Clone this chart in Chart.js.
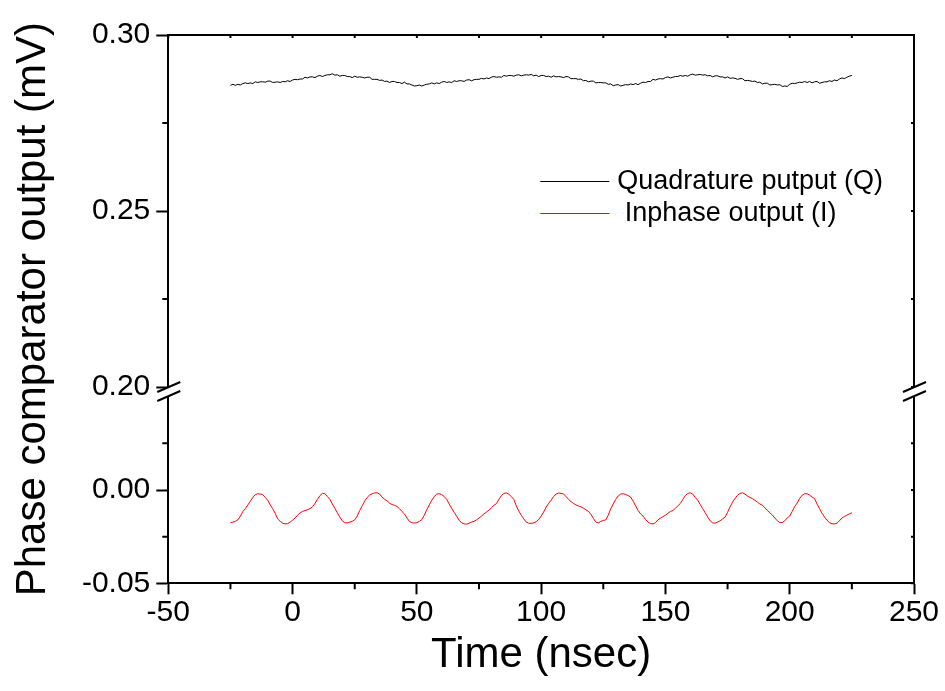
<!DOCTYPE html>
<html>
<head>
<meta charset="utf-8">
<script src="https://cdn.jsdelivr.net/npm/chart.js@4/dist/chart.umd.min.js"></script>
<style>
  html, body { margin: 0; padding: 0; background: #fff; }
  canvas { display: block; }
</style>
</head>
<body>
<canvas id="phaseChart" width="945" height="691"></canvas>
<script>
// time axis (nsec): one sample per nsec from -25 to 225
const timeStart = -25;

// Quadrature output (Q), mV
const quadratureQ = [
  0.2857, 0.2860, 0.2857, 0.2860, 0.2858, 0.2862, 0.2864, 0.2862, 0.2864, 0.2862,
  0.2867, 0.2865, 0.2867, 0.2867, 0.2866, 0.2869, 0.2869, 0.2865, 0.2866, 0.2867,
  0.2865, 0.2868, 0.2867, 0.2870, 0.2868, 0.2872, 0.2874, 0.2873, 0.2875, 0.2875,
  0.2880, 0.2878, 0.2881, 0.2881, 0.2879, 0.2883, 0.2885, 0.2882, 0.2885, 0.2887,
  0.2887, 0.2890, 0.2886, 0.2887, 0.2883, 0.2885, 0.2885, 0.2882, 0.2882, 0.2879,
  0.2883, 0.2880, 0.2881, 0.2880, 0.2878, 0.2880, 0.2880, 0.2874, 0.2874, 0.2874,
  0.2871, 0.2872, 0.2868, 0.2869, 0.2865, 0.2868, 0.2868, 0.2865, 0.2865, 0.2862,
  0.2866, 0.2861, 0.2861, 0.2858, 0.2855, 0.2856, 0.2858, 0.2855, 0.2858, 0.2860,
  0.2861, 0.2864, 0.2861, 0.2864, 0.2862, 0.2866, 0.2868, 0.2865, 0.2867, 0.2865,
  0.2870, 0.2868, 0.2870, 0.2870, 0.2868, 0.2872, 0.2873, 0.2870, 0.2873, 0.2874,
  0.2874, 0.2877, 0.2875, 0.2878, 0.2876, 0.2880, 0.2882, 0.2880, 0.2881, 0.2880,
  0.2885, 0.2883, 0.2885, 0.2885, 0.2883, 0.2886, 0.2887, 0.2884, 0.2886, 0.2887,
  0.2886, 0.2888, 0.2884, 0.2886, 0.2882, 0.2885, 0.2885, 0.2882, 0.2883, 0.2880,
  0.2884, 0.2881, 0.2882, 0.2881, 0.2879, 0.2882, 0.2881, 0.2876, 0.2876, 0.2876,
  0.2874, 0.2875, 0.2870, 0.2871, 0.2867, 0.2869, 0.2869, 0.2864, 0.2865, 0.2865,
  0.2864, 0.2864, 0.2860, 0.2861, 0.2856, 0.2858, 0.2859, 0.2855, 0.2857, 0.2859,
  0.2858, 0.2861, 0.2859, 0.2862, 0.2859, 0.2863, 0.2866, 0.2865, 0.2868, 0.2868,
  0.2874, 0.2872, 0.2875, 0.2876, 0.2875, 0.2879, 0.2881, 0.2878, 0.2880, 0.2882,
  0.2882, 0.2885, 0.2883, 0.2885, 0.2883, 0.2887, 0.2889, 0.2886, 0.2887, 0.2888,
  0.2886, 0.2887, 0.2884, 0.2885, 0.2881, 0.2884, 0.2884, 0.2881, 0.2881, 0.2878,
  0.2881, 0.2877, 0.2878, 0.2877, 0.2874, 0.2876, 0.2876, 0.2870, 0.2871, 0.2870,
  0.2868, 0.2869, 0.2865, 0.2866, 0.2861, 0.2863, 0.2863, 0.2858, 0.2859, 0.2860,
  0.2858, 0.2859, 0.2854, 0.2855, 0.2854, 0.2860, 0.2863, 0.2862, 0.2864, 0.2866,
  0.2865, 0.2868, 0.2865, 0.2868, 0.2864, 0.2867, 0.2868, 0.2863, 0.2865, 0.2867,
  0.2867, 0.2870, 0.2868, 0.2872, 0.2870, 0.2875, 0.2878, 0.2876, 0.2880, 0.2883,
  0.2885
];

// Inphase output (I), mV
const inphaseI = [
  -0.0175, -0.0172, -0.0168, -0.0160, -0.0140, -0.0115, -0.0100, -0.0080, -0.0060, -0.0040,
  -0.0025, -0.0020, -0.0022, -0.0025, -0.0040, -0.0055, -0.0080, -0.0100, -0.0125, -0.0155,
  -0.0168, -0.0178, -0.0182, -0.0180, -0.0172, -0.0162, -0.0150, -0.0135, -0.0123, -0.0115,
  -0.0110, -0.0106, -0.0100, -0.0090, -0.0072, -0.0050, -0.0030, -0.0018, -0.0020, -0.0035,
  -0.0050, -0.0075, -0.0098, -0.0122, -0.0145, -0.0165, -0.0175, -0.0177, -0.0172, -0.0168,
  -0.0160, -0.0140, -0.0110, -0.0085, -0.0060, -0.0040, -0.0027, -0.0020, -0.0016, -0.0015,
  -0.0022, -0.0038, -0.0050, -0.0058, -0.0070, -0.0078, -0.0082, -0.0088, -0.0100, -0.0115,
  -0.0128, -0.0150, -0.0168, -0.0176, -0.0177, -0.0175, -0.0168, -0.0158, -0.0135, -0.0105,
  -0.0080, -0.0055, -0.0035, -0.0022, -0.0020, -0.0025, -0.0035, -0.0050, -0.0075, -0.0098,
  -0.0120, -0.0140, -0.0162, -0.0176, -0.0182, -0.0183, -0.0178, -0.0172, -0.0168, -0.0160,
  -0.0150, -0.0140, -0.0128, -0.0118, -0.0108, -0.0095, -0.0082, -0.0073, -0.0050, -0.0030,
  -0.0018, -0.0016, -0.0022, -0.0036, -0.0050, -0.0085, -0.0112, -0.0135, -0.0155, -0.0172,
  -0.0178, -0.0179, -0.0176, -0.0170, -0.0158, -0.0140, -0.0118, -0.0092, -0.0072, -0.0055,
  -0.0035, -0.0022, -0.0016, -0.0018, -0.0021, -0.0035, -0.0050, -0.0062, -0.0072, -0.0080,
  -0.0086, -0.0090, -0.0098, -0.0106, -0.0114, -0.0130, -0.0152, -0.0172, -0.0176, -0.0168,
  -0.0163, -0.0160, -0.0135, -0.0100, -0.0075, -0.0050, -0.0032, -0.0022, -0.0020, -0.0024,
  -0.0030, -0.0038, -0.0060, -0.0085, -0.0110, -0.0128, -0.0140, -0.0158, -0.0172, -0.0180,
  -0.0182, -0.0175, -0.0160, -0.0150, -0.0143, -0.0135, -0.0125, -0.0115, -0.0110, -0.0098,
  -0.0085, -0.0072, -0.0050, -0.0030, -0.0018, -0.0015, -0.0022, -0.0040, -0.0055, -0.0078,
  -0.0100, -0.0122, -0.0145, -0.0165, -0.0176, -0.0178, -0.0172, -0.0165, -0.0155, -0.0145,
  -0.0120, -0.0090, -0.0065, -0.0045, -0.0028, -0.0018, -0.0015, -0.0022, -0.0032, -0.0040,
  -0.0046, -0.0055, -0.0065, -0.0075, -0.0082, -0.0095, -0.0110, -0.0122, -0.0134, -0.0150,
  -0.0165, -0.0175, -0.0174, -0.0165, -0.0150, -0.0140, -0.0115, -0.0088, -0.0070, -0.0045,
  -0.0028, -0.0020, -0.0020, -0.0028, -0.0038, -0.0046, -0.0075, -0.0100, -0.0125, -0.0145,
  -0.0162, -0.0175, -0.0181, -0.0182, -0.0178, -0.0165, -0.0150, -0.0142, -0.0135, -0.0128,
  -0.0122
];

const seriesLabels = ['Quadrature putput (Q)', ' Inphase output (I)'];

// axis ticks
const xMajorTicks = [-50, 0, 50, 100, 150, 200, 250];
const xMinorTicks = [-25, 25, 75, 125, 175, 225];
const yHighTicks = [0.20, 0.25, 0.30];
const yHighMinor = [0.225, 0.275];
const yLowTicks = [-0.05, 0.00];
const yLowMinor = [-0.025, 0.025];

const FONT = '"Liberation Sans", Arial, sans-serif';

const toPoints = (vals) => vals.map((v, i) => ({ x: timeStart + i, y: v }));

// frame, minor ticks, axis breaks, legend and y title
const decorPlugin = {
  id: 'decor',
  afterDraw(chart) {
    const ctx = chart.ctx;
    const { left, right, top, bottom } = chart.chartArea;
    const sx = chart.scales.x, yh = chart.scales.yHigh, yl = chart.scales.yLow;
    ctx.save();
    ctx.strokeStyle = '#000';
    ctx.lineWidth = 2;
    // top + right frame
    ctx.beginPath();
    ctx.moveTo(left - 1, top); ctx.lineTo(right, top); ctx.lineTo(right, bottom);
    ctx.stroke();

    ctx.beginPath();
    // bottom minor ticks (outward)
    xMinorTicks.forEach(v => {
      const px = sx.getPixelForValue(v);
      ctx.moveTo(px, bottom); ctx.lineTo(px, bottom + 6);
    });
    // top ticks (inward, short)
    xMajorTicks.concat(xMinorTicks).forEach(v => {
      const px = sx.getPixelForValue(v);
      ctx.moveTo(px, top); ctx.lineTo(px, top + 3);
    });
    // left minor ticks
    yHighMinor.forEach(v => {
      const py = yh.getPixelForValue(v);
      ctx.moveTo(left, py); ctx.lineTo(left - 6, py);
    });
    yLowMinor.forEach(v => {
      const py = yl.getPixelForValue(v);
      ctx.moveTo(left, py); ctx.lineTo(left - 6, py);
    });
    // right ticks (inward, short)
    yHighTicks.concat(yHighMinor).forEach(v => {
      const py = yh.getPixelForValue(v);
      ctx.moveTo(right, py); ctx.lineTo(right - 3, py);
    });
    yLowTicks.concat(yLowMinor).forEach(v => {
      const py = yl.getPixelForValue(v);
      ctx.moveTo(right, py); ctx.lineTo(right - 3, py);
    });
    ctx.stroke();

    // axis breaks
    const yb = yh.bottom;
    [left, right].forEach(ax => {
      ctx.fillStyle = '#fff';
      ctx.beginPath();
      ctx.moveTo(ax - 11, yb + 5); ctx.lineTo(ax + 12, yb - 5);
      ctx.lineTo(ax + 12, yb + 4); ctx.lineTo(ax - 11, yb + 14);
      ctx.closePath();
      ctx.fill();
      ctx.beginPath();
      ctx.moveTo(ax - 11, yb + 5); ctx.lineTo(ax + 12, yb - 5);
      ctx.moveTo(ax - 11, yb + 14); ctx.lineTo(ax + 12, yb + 4);
      ctx.stroke();
    });

    // legend
    ctx.lineWidth = 1;
    ctx.font = '27px ' + FONT;
    ctx.textBaseline = 'middle';
    ctx.textAlign = 'left';
    ctx.fillStyle = '#000';
    const lx = left + 372;
    const rows = [top + 146, top + 178];
    chart.data.datasets.forEach((ds, i) => {
      ctx.strokeStyle = ds.borderColor;
      ctx.beginPath();
      ctx.moveTo(lx, rows[i] + 0.5); ctx.lineTo(lx + 69, rows[i] + 0.5);
      ctx.stroke();
      ctx.fillText(ds.label, lx + 77, rows[i] + 1);
    });

    // y title
    ctx.font = '42px ' + FONT;
    ctx.textAlign = 'center';
    ctx.translate(33, (top + bottom) / 2);
    ctx.rotate(-Math.PI / 2);
    ctx.fillText('Phase comparator output (mV)', 0, 0);
    ctx.restore();
  }
};

const axisCommon = {
  border: { display: true, color: '#000', width: 2 },
  grid: { drawOnChartArea: false, drawTicks: true, tickLength: 12, tickWidth: 2, tickColor: '#000' },
};

new Chart(document.getElementById('phaseChart'), {
  type: 'line',
  data: {
    datasets: [
      {
        label: seriesLabels[0],
        data: toPoints(quadratureQ),
        yAxisID: 'yHigh',
        borderColor: '#000000',
        borderWidth: 1,
        pointRadius: 0,
        tension: 0,
      },
      {
        label: seriesLabels[1],
        data: toPoints(inphaseI),
        yAxisID: 'yLow',
        borderColor: '#ff0000',
        borderWidth: 1,
        pointRadius: 0,
        tension: 0,
      },
    ],
  },
  options: {
    responsive: false,
    animation: false,
    devicePixelRatio: 1,
    layout: { padding: { left: 0, right: 31, top: 35, bottom: 0 } },
    plugins: { legend: { display: false }, tooltip: { enabled: false } },
    scales: {
      x: {
        type: 'linear',
        min: -50,
        max: 250,
        ...axisCommon,
        grid: { ...axisCommon.grid, tickLength: 11 },
        afterBuildTicks: (scale) => { scale.ticks = xMajorTicks.map(v => ({ value: v })); },
        afterFit: (scale) => { scale.height = 107.7; },
        ticks: { color: '#000', font: { family: FONT, size: 30 }, padding: 0, maxRotation: 0 },
        title: { display: true, text: 'Time (nsec)', color: '#000', font: { family: FONT, size: 42 }, padding: { top: 0, bottom: 10 } },
      },
      yLow: {
        type: 'linear',
        position: 'left',
        stack: 'phase',
        stackWeight: 196.3,
        min: -0.05,
        max: 0.0552,
        ...axisCommon,
        afterBuildTicks: (scale) => { scale.ticks = yLowTicks.map(v => ({ value: v })); },
        afterFit: (scale) => { scale.width = 168.3; },
        ticks: { color: '#000', font: { family: FONT, size: 30 }, padding: 6, callback: (v) => v.toFixed(2) },
      },
      yHigh: {
        type: 'linear',
        position: 'left',
        stack: 'phase',
        stackWeight: 352,
        min: 0.20,
        max: 0.30,
        ...axisCommon,
        afterBuildTicks: (scale) => { scale.ticks = yHighTicks.map(v => ({ value: v })); },
        afterFit: (scale) => { scale.width = 168.3; },
        ticks: { color: '#000', font: { family: FONT, size: 30 }, padding: 6, callback: (v) => v.toFixed(2) },
      },
    },
  },
  plugins: [decorPlugin],
});
</script>
</body>
</html>
